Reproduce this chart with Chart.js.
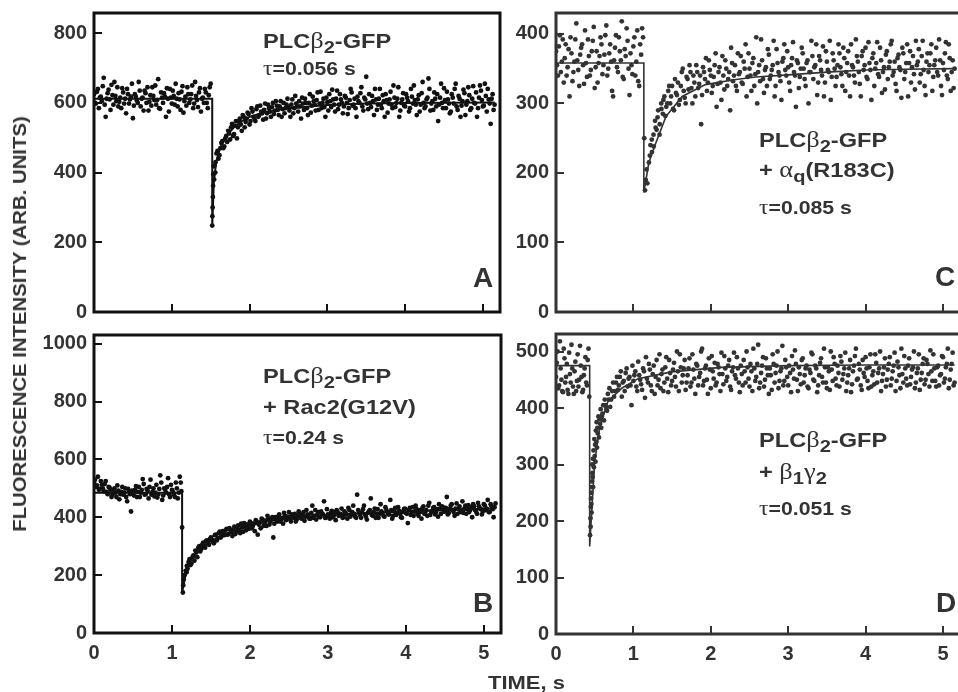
<!DOCTYPE html>
<html lang="en">
<head>
<meta charset="UTF-8">
<title>PLCb2-GFP fluorescence recovery</title>
<script src="https://cdn.jsdelivr.net/npm/chart.js"></script>
<style>
    html, body { margin: 0; padding: 0; background: #fff; overflow: hidden; }
    #wrap { position: relative; width: 958px; height: 692px; overflow: hidden; }
    /* canvases are oversized by 100px on every side so the plot boxes sit exactly where wanted */
    .panel { position: absolute; left: -100px; top: -100px; width: 1162px; height: 892px; }
    .t {
        position: absolute; white-space: nowrap; color: #333;
        font-family: "Liberation Sans", Arial, sans-serif; font-weight: bold;
        font-size: 20px; line-height: 20px;
        transform: scaleX(1.18); transform-origin: left center;
    }
    .t.small { font-size: 18px; line-height: 18px; }
    .g { font-family: "Liberation Serif", serif; font-weight: normal; font-size: 1.12em; }
    .sub { font-size: 0.85em; position: relative; top: 0.3em; }
    .letter { position: absolute; font-family: "Liberation Sans", Arial, sans-serif; font-weight: bold;
        font-size: 28px; line-height: 28px; color: #333; }
    #ytitle { position: absolute; left: 20px; top: 324px; white-space: nowrap; color: #333;
        font-family: "Liberation Sans", Arial, sans-serif; font-weight: bold; font-size: 18px; line-height: 18px;
        transform: translate(-50%, -50%) rotate(-90deg) scaleX(1.13); }
    #xtitle { position: absolute; left: 488px; top: 674px; white-space: nowrap; color: #333;
        font-family: "Liberation Sans", Arial, sans-serif; font-weight: bold; font-size: 18px; line-height: 18px;
        transform: scaleX(1.22); transform-origin: left center; }
</style>
</head>
<body>
<div id="wrap">
    <div class="panel"><canvas id="chartA"></canvas></div>
    <div class="panel"><canvas id="chartB"></canvas></div>
    <div class="panel"><canvas id="chartC"></canvas></div>
    <div class="panel"><canvas id="chartD"></canvas></div>

    <div class="t" style="left:263px;top:31px">PLC<span class="g">β</span><span class="sub">2</span>-GFP</div>
    <div class="t small" style="left:263px;top:59px"><span class="g">τ</span>=0.056 s</div>
    <div class="letter" style="left:473px;top:264px">A</div>

    <div class="t" style="left:263px;top:366px">PLC<span class="g">β</span><span class="sub">2</span>-GFP</div>
    <div class="t" style="left:263px;top:397px">+ Rac2(G12V)</div>
    <div class="t small" style="left:263px;top:428px"><span class="g">τ</span>=0.24 s</div>
    <div class="letter" style="left:473px;top:589px">B</div>

    <div class="t" style="left:759px;top:130px">PLC<span class="g">β</span><span class="sub">2</span>-GFP</div>
    <div class="t" style="left:759px;top:160px">+ <span class="g">α</span><span class="sub">q</span>(R183C)</div>
    <div class="t small" style="left:759px;top:198px"><span class="g">τ</span>=0.085 s</div>
    <div class="letter" style="left:935px;top:263px">C</div>

    <div class="t" style="left:759px;top:430px">PLC<span class="g">β</span><span class="sub">2</span>-GFP</div>
    <div class="t" style="left:759px;top:462px">+ <span class="g">β</span><span class="sub">1</span><span class="g">γ</span><span class="sub">2</span></div>
    <div class="t small" style="left:759px;top:499px"><span class="g">τ</span>=0.051 s</div>
    <div class="letter" style="left:936px;top:589px">D</div>

    <div id="ytitle">FLUORESCENCE INTENSITY (ARB. UNITS)</div>
    <div id="xtitle">TIME, s</div>
</div>

<script>
    // ---- data: [time s, intensity] ----
    const pointsA = [
        [0.000,625],[0.025,598],[0.050,640],[0.075,615],[0.100,605],[0.125,672],[0.150,560],[0.175,628],[0.200,610],[0.225,652],
        [0.250,595],[0.275,620],[0.300,645],[0.325,603],[0.350,585],[0.375,630],[0.400,612],[0.425,640],[0.450,598],[0.475,618],
        [0.500,556],[0.525,625],[0.550,607],[0.575,660],[0.600,590],[0.625,615],[0.650,635],[0.675,600],[0.700,578],[0.725,622],
        [0.750,645],[0.775,608],[0.800,595],[0.825,668],[0.850,583],[0.875,615],[0.900,628],[0.925,560],[0.950,612],[0.975,640],
        [1.000,598],[1.025,620],[1.050,655],[1.075,590],[1.100,610],[1.125,632],[1.150,572],[1.175,618],[1.200,645],[1.225,600],
        [1.250,625],[1.275,585],[1.300,660],[1.325,608],[1.350,630],[1.375,575],[1.400,615],[1.425,640],[1.450,600],[1.475,622],
        [1.500,655],[1.520,248],[1.522,275],[1.525,300],[1.528,330],[1.531,362],[1.534,395],[1.537,418],[1.545,380],[1.550,420],
        [1.560,400],[1.575,455],[1.600,440],[1.625,470],[1.650,490],[1.675,475],[1.700,505],[1.725,520],[1.750,495],[1.775,540],
        [1.800,510],[1.825,548],[1.850,530],[1.875,555],[1.900,520],[1.925,560],[1.950,545],[1.975,572],[2.000,538],[2.025,585],
        [2.050,560],[2.075,548],[2.100,590],[2.125,565],[2.150,575],[2.175,552],[2.200,598],[2.225,570],[2.250,585],[2.275,560],
        [2.300,600],[2.325,578],[2.350,592],[2.375,565],[2.400,605],[2.425,582],[2.450,570],[2.475,595],[2.500,588],[2.525,560],
        [2.550,610],[2.575,585],[2.600,598],[2.625,575],[2.650,590],[2.675,615],[2.700,580],[2.725,600],[2.750,565],[2.775,625],
        [2.800,592],[2.825,605],[2.850,578],[2.875,630],[2.900,598],[2.925,585],[2.950,612],[2.975,560],[3.000,602],[3.025,625],
        [3.050,588],[3.075,610],[3.100,575],[3.125,635],[3.150,595],[3.175,610],[3.200,570],[3.225,620],[3.250,600],[3.275,585],
        [3.300,640],[3.325,592],[3.350,612],[3.375,560],[3.400,605],[3.425,628],[3.450,590],[3.475,615],[3.500,675],[3.525,582],
        [3.550,600],[3.575,620],[3.600,565],[3.625,610],[3.650,595],[3.675,640],[3.700,585],[3.725,605],[3.750,625],[3.775,572],
        [3.800,610],[3.825,595],[3.850,650],[3.875,588],[3.900,612],[3.925,560],[3.950,600],[3.975,628],[4.000,590],[4.025,615],
        [4.050,575],[4.075,640],[4.100,598],[4.125,608],[4.150,565],[4.175,622],[4.200,595],[4.225,660],[4.250,585],[4.275,610],
        [4.300,670],[4.325,578],[4.350,605],[4.375,630],[4.400,590],[4.425,548],[4.450,615],[4.475,600],[4.500,642],[4.525,585],
        [4.550,610],[4.575,570],[4.600,625],[4.625,598],[4.650,655],[4.675,580],[4.700,612],[4.725,592],[4.750,638],[4.775,565],
        [4.800,605],[4.825,622],[4.850,585],[4.875,648],[4.900,598],[4.925,560],[4.950,615],[4.975,635],[5.000,590],[5.025,655],
        [5.050,575],[5.075,610],[5.100,540],[5.125,625],[5.150,595]
    ];
    const pointsA2 = [
        [0.0125,600],[0.0375,632],[0.0625,585],[0.0875,618],[0.1125,648],[0.1375,595],[0.1625,612],[0.1875,638],[0.2125,580],[0.2375,622],
        [0.2625,660],[0.2875,605],[0.3125,590],[0.3375,615],[0.3625,642],[0.3875,598],[0.4125,570],[0.4375,625],[0.4625,610],[0.4875,655],
        [0.5125,592],[0.5375,618],[0.5625,600],[0.5875,635],[0.6125,612],[0.6375,578],[0.6625,628],[0.6875,645],[0.7125,603],[0.7375,592],
        [0.7625,620],[0.7875,650],[0.8125,608],[0.8375,585],[0.8625,630],[0.8875,600],[0.9125,618],[0.9375,642],[0.9625,575],[0.9875,615],
        [1.0125,635],[1.0375,595],[1.0625,612],[1.0875,628],[1.1125,580],[1.1375,648],[1.1625,605],[1.1875,592],[1.2125,625],[1.2375,610],
        [1.2625,650],[1.2875,598],[1.3125,620],[1.3375,588],[1.3625,642],[1.3875,612],[1.4125,600],[1.4375,630],[1.4625,585],[1.4875,645],
        [1.5625,430],[1.5875,462],[1.6125,450],[1.6375,485],[1.6625,470],[1.6875,498],[1.7125,488],[1.7375,512],[1.7625,530],[1.7875,505],
        [1.8125,535],[1.8375,498],[1.8625,548],[1.8875,538],[1.9125,565],[1.9375,530],[1.9625,555],[1.9875,568],[2.0125,548],[2.0375,575],
        [2.0625,555],[2.0875,582],[2.1125,560],[2.1375,592],[2.1625,570],[2.1875,580],[2.2125,555],[2.2375,595],[2.2625,575],[2.2875,588],
        [2.3125,568],[2.3375,605],[2.3625,580],[2.3875,590],[2.4125,560],[2.4375,600],[2.4625,585],[2.4875,612],[2.5125,578],[2.5375,595],
        [2.5625,570],[2.5875,620],[2.6125,590],[2.6375,605],[2.6625,555],[2.6875,598],[2.7125,612],[2.7375,585],[2.7625,600],[2.7875,572],
        [2.8125,618],[2.8375,595],[2.8625,608],[2.8875,580],[2.9125,632],[2.9375,600],[2.9625,588],[2.9875,615],[3.0125,578],[3.0375,605],
        [3.0625,638],[3.0875,595],[3.1125,612],[3.1375,582],[3.1625,625],[3.1875,600],[3.2125,590],[3.2375,615],[3.2625,568],[3.2875,608],
        [3.3125,630],[3.3375,595],[3.3625,585],[3.3875,618],[3.4125,600],[3.4375,645],[3.4625,578],[3.4875,610],[3.5125,598],[3.5375,625],
        [3.5625,588],[3.5875,605],[3.6125,640],[3.6375,580],[3.6625,612],[3.6875,595],[3.7125,622],[3.7375,560],[3.7625,608],[3.7875,598],
        [3.8125,632],[3.8375,585],[3.8625,615],[3.8875,600],[3.9125,645],[3.9375,578],[3.9625,610],[3.9875,592],[4.0125,625],[4.0375,605],
        [4.0625,585],[4.0875,618],[4.1125,650],[4.1375,595],[4.1625,610],[4.1875,575],[4.2125,628],[4.2375,600],[4.2625,590],[4.2875,615],
        [4.3125,640],[4.3375,598],[4.3625,580],[4.3875,612],[4.4125,625],[4.4375,595],[4.4625,655],[4.4875,585],[4.5125,608],[4.5375,632],
        [4.5625,598],[4.5875,575],[4.6125,615],[4.6375,640],[4.6625,590],[4.6875,620],[4.7125,560],[4.7375,605],[4.7625,628],[4.7875,595],
        [4.8125,645],[4.8375,580],[4.8625,612],[4.8875,600],[4.9125,630],[4.9375,585],[4.9625,650],[4.9875,608],[5.0125,592],[5.0375,620],
        [5.0625,640],[5.0875,598],[5.1125,612],[5.1375,580]
    ];
    const fitA = [[0,612],[1.52,612],[1.52,245],[1.54,370],[1.57,430],[1.62,470],[1.70,505],[1.80,530],[1.90,548],[2.00,560],
        [2.20,574],[2.50,585],[3.00,594],[3.50,598],[4.00,600],[5.15,601]];

    const pointsB = [
        [0.000,520],[0.025,505],[0.050,540],[0.075,498],[0.100,512],[0.125,490],[0.150,525],[0.175,480],[0.200,502],[0.225,470],
        [0.250,495],[0.275,485],[0.300,510],[0.325,462],[0.350,488],[0.375,478],[0.400,500],[0.425,455],[0.450,490],[0.475,420],
        [0.500,482],[0.525,495],[0.550,470],[0.575,505],[0.600,485],[0.625,532],[0.650,478],[0.675,498],[0.700,465],[0.725,530],
        [0.750,488],[0.775,472],[0.800,512],[0.825,480],[0.850,545],[0.875,460],[0.900,500],[0.925,485],[0.950,535],[0.975,470],
        [1.000,495],[1.025,478],[1.050,520],[1.075,465],[1.100,540],[1.120,490],[1.130,365],[1.140,140],[1.145,165],[1.150,185],
        [1.160,200],[1.175,215],[1.190,232],[1.200,222],[1.225,255],[1.250,240],[1.275,268],[1.300,285],[1.325,262],[1.350,300],
        [1.375,290],[1.400,312],[1.425,295],[1.450,320],[1.475,305],[1.500,330],[1.525,315],[1.550,338],[1.575,320],[1.600,345],
        [1.625,330],[1.650,352],[1.675,338],[1.700,360],[1.725,342],[1.750,355],[1.775,335],[1.800,368],[1.825,350],[1.850,372],
        [1.875,345],[1.900,365],[1.925,380],[1.950,355],[1.975,372],[2.000,385],[2.025,362],[2.050,378],[2.075,390],[2.100,340],
        [2.125,382],[2.150,395],[2.175,370],[2.200,388],[2.225,405],[2.250,375],[2.275,395],[2.300,330],[2.325,400],[2.350,385],
        [2.375,410],[2.400,392],[2.425,378],[2.450,405],[2.475,395],[2.500,418],[2.525,385],[2.550,400],[2.575,412],[2.600,392],
        [2.625,420],[2.650,398],[2.675,408],[2.700,388],[2.725,425],[2.750,402],[2.775,395],[2.800,440],[2.825,405],[2.850,392],
        [2.875,418],[2.900,400],[2.925,412],[2.950,455],[2.975,398],[3.000,410],[3.025,395],[3.050,422],[3.075,405],[3.100,390],
        [3.125,418],[3.150,408],[3.175,430],[3.200,400],[3.225,415],[3.250,395],[3.275,425],[3.300,410],[3.325,440],[3.350,402],
        [3.375,478],[3.400,415],[3.425,398],[3.450,428],[3.475,410],[3.500,392],[3.525,420],[3.550,465],[3.575,405],[3.600,430],
        [3.625,412],[3.650,398],[3.675,445],[3.700,415],[3.725,402],[3.750,425],[3.775,410],[3.800,460],[3.825,395],[3.850,420],
        [3.875,408],[3.900,435],[3.925,412],[3.950,398],[3.975,428],[4.000,415],[4.025,380],[4.050,432],[4.075,418],[4.100,405],
        [4.125,440],[4.150,412],[4.175,425],[4.200,395],[4.225,438],[4.250,418],[4.275,405],[4.300,450],[4.325,420],[4.350,432],
        [4.375,410],[4.400,428],[4.425,445],[4.450,412],[4.475,435],[4.500,420],[4.525,470],[4.550,415],[4.575,440],[4.600,425],
        [4.625,405],[4.650,448],[4.675,428],[4.700,418],[4.725,455],[4.750,430],[4.775,412],[4.800,442],[4.825,425],[4.850,400],
        [4.875,438],[4.900,420],[4.925,450],[4.950,430],[4.975,410],[5.000,445],[5.025,425],[5.050,460],[5.075,418],[5.100,438],
        [5.125,400],[5.150,448]
    ];
    const pointsB2 = [
        [0.0125,530],[0.0375,510],[0.0625,495],[0.0875,525],[0.1125,500],[0.1375,515],[0.1625,488],[0.1875,505],[0.2125,495],[0.2375,478],
        [0.2625,500],[0.2875,470],[0.3125,492],[0.3375,480],[0.3625,505],[0.3875,485],[0.4125,470],[0.4375,498],[0.4625,480],[0.4875,492],
        [0.5125,475],[0.5375,508],[0.5625,488],[0.5875,470],[0.6125,495],[0.6375,515],[0.6625,480],[0.6875,492],[0.7125,505],[0.7375,478],
        [0.7625,500],[0.7875,485],[0.8125,468],[0.8375,498],[0.8625,520],[0.8875,475],[0.9125,495],[0.9375,505],[0.9625,480],[0.9875,512],
        [1.0125,488],[1.0375,470],[1.0625,500],[1.0875,485],[1.1125,520],
        [1.1875,210],[1.2125,245],[1.2375,235],[1.2625,262],[1.2875,250],[1.3125,278],[1.3375,295],[1.3625,282],[1.3875,305],[1.4125,298],
        [1.4375,318],[1.4625,308],[1.4875,325],[1.5125,322],[1.5375,310],[1.5625,340],[1.5875,328],[1.6125,350],[1.6375,335],[1.6625,345],
        [1.6875,355],[1.7125,340],[1.7375,362],[1.7625,348],[1.7875,358],[1.8125,342],[1.8375,365],[1.8625,355],[1.8875,378],[1.9125,350],
        [1.9375,368],[1.9625,375],[1.9875,360],[2.0125,380],[2.0375,370],[2.0625,352],[2.0875,385],[2.1125,375],[2.1375,362],[2.1625,392],
        [2.1875,380],[2.2125,370],[2.2375,395],[2.2625,385],[2.2875,400],[2.3125,378],[2.3375,392],[2.3625,402],[2.3875,385],[2.4125,398],
        [2.4375,415],[2.4625,390],[2.4875,402],[2.5125,395],[2.5375,410],[2.5625,398],[2.5875,385],[2.6125,405],[2.6375,412],[2.6625,395],
        [2.6875,418],[2.7125,402],[2.7375,410],[2.7625,395],[2.7875,415],[2.8125,398],[2.8375,425],[2.8625,408],[2.8875,402],[2.9125,420],
        [2.9375,410],[2.9625,398],[2.9875,428],[3.0125,405],[3.0375,415],[3.0625,400],[3.0875,418],[3.1125,425],[3.1375,405],[3.1625,412],
        [3.1875,398],[3.2125,420],[3.2375,410],[3.2625,432],[3.2875,402],[3.3125,418],[3.3375,412],[3.3625,398],[3.3875,425],[3.4125,408],
        [3.4375,418],[3.4625,440],[3.4875,402],[3.5125,415],[3.5375,425],[3.5625,408],[3.5875,418],[3.6125,398],[3.6375,428],[3.6625,412],
        [3.6875,420],[3.7125,405],[3.7375,435],[3.7625,418],[3.7875,410],[3.8125,425],[3.8375,405],[3.8625,432],[3.8875,415],[3.9125,422],
        [3.9375,400],[3.9625,418],[3.9875,430],[4.0125,412],[4.0375,425],[4.0625,408],[4.0875,435],[4.1125,420],[4.1375,428],[4.1625,405],
        [4.1875,418],[4.2125,432],[4.2375,412],[4.2625,425],[4.2875,440],[4.3125,408],[4.3375,420],[4.3625,435],[4.3875,418],[4.4125,402],
        [4.4375,428],[4.4625,438],[4.4875,420],[4.5125,432],[4.5375,410],[4.5625,428],[4.5875,445],[4.6125,418],[4.6375,430],[4.6625,412],
        [4.6875,438],[4.7125,425],[4.7375,415],[4.7625,440],[4.7875,428],[4.8125,418],[4.8375,435],[4.8625,445],[4.8875,425],[4.9125,412],
        [4.9375,438],[4.9625,428],[4.9875,420],[5.0125,440],[5.0375,430],[5.0625,418],[5.0875,445],[5.1125,428],[5.1375,435]
    ];
    const fitB = [[0,485],[1.13,485],[1.13,140],[1.18,210],[1.25,255],[1.35,292],[1.50,318],[1.75,348],[2.00,372],[2.25,388],
        [2.50,398],[3.00,408],[3.50,415],[4.00,420],[4.50,425],[5.15,430]];

    const pointsC = [
        [0.000,375],[0.025,340],[0.050,398],[0.075,360],[0.100,330],[0.125,385],[0.150,352],[0.175,310],[0.200,372],[0.225,345],
        [0.250,392],[0.275,362],[0.300,325],[0.325,380],[0.350,355],[0.375,405],[0.400,338],[0.425,368],[0.450,348],[0.475,390],
        [0.500,322],[0.525,375],[0.550,358],[0.575,395],[0.600,342],[0.625,370],[0.650,412],[0.675,350],[0.700,385],[0.725,318],
        [0.750,362],[0.775,398],[0.800,345],[0.825,375],[0.850,418],[0.875,335],[0.900,368],[0.925,390],[0.950,312],[0.975,355],
        [1.000,382],[1.025,340],[1.050,405],[1.075,325],[1.100,370],[1.125,395],[1.140,250],[1.150,175],[1.160,190],[1.170,205],
        [1.180,185],[1.200,215],[1.220,240],[1.240,230],[1.260,255],[1.280,275],[1.300,262],[1.320,290],[1.340,270],[1.360,300],
        [1.380,285],[1.400,310],[1.425,295],[1.450,318],[1.475,300],[1.500,325],[1.525,290],[1.550,315],[1.575,330],[1.600,305],
        [1.625,345],[1.650,318],[1.675,300],[1.700,335],[1.725,355],[1.750,322],[1.775,340],[1.800,310],[1.825,345],[1.850,328],
        [1.875,270],[1.900,352],[1.925,335],[1.950,318],[1.975,362],[2.000,340],[2.025,325],[2.050,355],[2.075,295],[2.100,345],
        [2.125,330],[2.150,368],[2.175,320],[2.200,350],[2.225,335],[2.250,290],[2.275,358],[2.300,340],[2.325,325],[2.350,372],
        [2.375,345],[2.400,330],[2.425,360],[2.450,385],[2.475,338],[2.500,350],[2.525,318],[2.550,365],[2.575,342],[2.600,300],
        [2.625,355],[2.650,392],[2.675,335],[2.700,348],[2.725,325],[2.750,370],[2.775,340],[2.800,355],[2.825,310],[2.850,378],
        [2.875,345],[2.900,332],[2.925,360],[2.950,385],[2.975,340],[3.000,352],[3.025,318],[3.050,365],[3.075,345],[3.100,295],
        [3.125,358],[3.150,338],[3.175,380],[3.200,350],[3.225,325],[3.250,362],[3.275,345],[3.300,390],[3.325,335],[3.350,355],
        [3.375,312],[3.400,368],[3.425,348],[3.450,382],[3.475,330],[3.500,360],[3.525,345],[3.550,305],[3.575,372],[3.600,350],
        [3.625,338],[3.650,385],[3.675,352],[3.700,325],[3.725,365],[3.750,345],[3.775,375],[3.800,310],[3.825,355],[3.850,340],
        [3.875,392],[3.900,360],[3.925,328],[3.950,368],[3.975,348],[4.000,380],[4.025,335],[4.050,358],[4.075,305],[4.100,372],
        [4.125,350],[4.150,388],[4.175,338],[4.200,362],[4.225,345],[4.250,320],[4.275,375],[4.300,352],[4.325,385],[4.350,340],
        [4.375,360],[4.400,318],[4.425,370],[4.450,348],[4.475,380],[4.500,335],[4.525,358],[4.550,310],[4.575,375],[4.600,352],
        [4.625,342],[4.650,390],[4.675,360],[4.700,330],[4.725,368],[4.750,348],[4.775,312],[4.800,372],[4.825,355],[4.850,385],
        [4.875,338],[4.900,362],[4.925,345],[4.950,392],[4.975,325],[5.000,358],[5.025,372],[5.050,340],[5.075,385],[5.100,318],
        [5.125,362],[5.150,350]
    ];
    const pointsC2 = [
        [0.0125,355],[0.0375,382],[0.0625,345],[0.0875,392],[0.1125,365],[0.1375,340],[0.1625,378],[0.1875,395],[0.2125,332],[0.2375,360],
        [0.2625,415],[0.2875,348],[0.3125,370],[0.3375,385],[0.3625,328],[0.3875,358],[0.4125,392],[0.4375,340],[0.4625,375],[0.4875,410],
        [0.5125,352],[0.5375,330],[0.5625,368],[0.5875,385],[0.6125,355],[0.6375,398],[0.6625,340],[0.6875,372],[0.7125,360],[0.7375,310],
        [0.7625,380],[0.7875,352],[0.8125,395],[0.8375,362],[0.8625,338],[0.8875,378],[0.9125,408],[0.9375,350],[0.9625,372],[0.9875,342],
        [1.0125,395],[1.0375,360],[1.0625,332],[1.0875,385],[1.1125,408],
        [1.2125,225],[1.2375,248],[1.2625,238],[1.2875,265],[1.3125,280],[1.3375,255],[1.3625,292],[1.3875,305],[1.4125,282],[1.4375,300],
        [1.4625,325],[1.4875,310],[1.5125,292],[1.5375,335],[1.5625,312],[1.5875,298],[1.6125,325],[1.6375,350],[1.6625,308],[1.6875,338],
        [1.7125,320],[1.7375,345],[1.7625,300],[1.7875,330],[1.8125,355],[1.8375,322],[1.8625,340],[1.8875,312],[1.9125,345],[1.9375,365],
        [1.9625,330],[1.9875,348],[2.0125,315],[2.0375,338],[2.0625,372],[2.0875,328],[2.1125,352],[2.1375,305],[2.1625,340],[2.1875,362],
        [2.2125,325],[2.2375,345],[2.2625,380],[2.2875,332],[2.3125,355],[2.3375,318],[2.3625,342],[2.3875,368],[2.4125,328],[2.4375,350],
        [2.4625,310],[2.4875,372],[2.5125,340],[2.5375,358],[2.5625,325],[2.5875,395],[2.6125,345],[2.6375,332],[2.6625,362],[2.6875,315],
        [2.7125,352],[2.7375,378],[2.7625,335],[2.7875,348],[2.8125,390],[2.8375,325],[2.8625,358],[2.8875,340],[2.9125,305],[2.9375,365],
        [2.9625,348],[2.9875,375],[3.0125,330],[3.0375,355],[3.0625,388],[3.0875,340],[3.1125,362],[3.1375,322],[3.1625,350],[3.1875,372],
        [3.2125,335],[3.2375,358],[3.2625,300],[3.2875,345],[3.3125,368],[3.3375,352],[3.3625,385],[3.3875,330],[3.4125,362],[3.4375,340],
        [3.4625,310],[3.4875,375],[3.5125,348],[3.5375,390],[3.5625,338],[3.5875,362],[3.6125,325],[3.6375,355],[3.6625,372],[3.6875,342],
        [3.7125,380],[3.7375,318],[3.7625,358],[3.7875,340],[3.8125,385],[3.8375,352],[3.8625,330],[3.8875,368],[3.9125,345],[3.9375,310],
        [3.9625,375],[3.9875,355],[4.0125,338],[4.0375,388],[4.0625,348],[4.0875,365],[4.1125,325],[4.1375,358],[4.1625,342],[4.1875,380],
        [4.2125,315],[4.2375,352],[4.2625,370],[4.2875,335],[4.3125,360],[4.3375,390],[4.3625,345],[4.3875,328],[4.4125,365],[4.4375,352],
        [4.4625,308],[4.4875,372],[4.5125,345],[4.5375,385],[4.5625,358],[4.5875,330],[4.6125,368],[4.6375,320],[4.6625,355],[4.6875,378],
        [4.7125,342],[4.7375,390],[4.7625,325],[4.7875,360],[4.8125,345],[4.8375,372],[4.8625,318],[4.8875,355],[4.9125,380],[4.9375,340],
        [4.9625,362],[4.9875,312],[5.0125,348],[5.0375,388],[5.0625,335],[5.0875,365],[5.1125,345],[5.1375,322]
    ];
    const fitC = [[0,358],[1.135,358],[1.135,172],[1.20,215],[1.29,243],[1.42,281],[1.63,310],[1.93,327],[2.30,334],[2.58,338],
        [3.00,341],[3.50,345],[4.00,348],[4.50,349],[5.15,350]];

    const pointsD = [
        [0.000,455],[0.020,500],[0.040,440],[0.060,470],[0.080,430],[0.100,505],[0.120,445],[0.140,478],[0.160,425],[0.180,460],
        [0.200,512],[0.220,438],[0.240,465],[0.260,430],[0.280,495],[0.300,450],[0.320,475],[0.340,428],[0.360,458],[0.380,490],
        [0.400,440],[0.420,505],[0.430,420],[0.440,175],[0.445,205],[0.450,225],[0.455,250],[0.460,215],[0.465,270],[0.470,285],
        [0.480,260],[0.490,295],[0.500,315],[0.510,305],[0.520,340],[0.530,330],[0.540,355],[0.555,348],[0.570,372],[0.585,365],
        [0.600,390],[0.620,378],[0.640,405],[0.660,395],[0.680,415],[0.700,402],[0.725,430],[0.750,420],[0.775,445],[0.800,432],
        [0.825,455],[0.850,420],[0.875,448],[0.900,462],[0.925,438],[0.950,455],[0.975,405],[1.000,448],[1.025,465],[1.050,430],
        [1.075,458],[1.100,442],[1.125,470],[1.150,418],[1.175,452],[1.200,478],[1.225,440],[1.250,460],[1.275,425],[1.300,485],
        [1.325,450],[1.350,435],[1.375,468],[1.400,445],[1.425,490],[1.450,428],[1.475,462],[1.500,448],[1.525,480],[1.550,438],
        [1.575,465],[1.600,495],[1.625,445],[1.650,470],[1.675,432],[1.700,458],[1.725,488],[1.750,445],[1.775,468],[1.800,425],
        [1.825,475],[1.850,455],[1.875,500],[1.900,440],[1.925,470],[1.950,450],[1.975,488],[2.000,435],[2.025,465],[2.050,480],
        [2.075,445],[2.100,472],[2.125,430],[2.150,460],[2.175,492],[2.200,448],[2.225,475],[2.250,438],[2.275,465],[2.300,498],
        [2.325,452],[2.350,470],[2.375,428],[2.400,460],[2.425,485],[2.450,445],[2.475,472],[2.500,438],[2.525,465],[2.550,505],
        [2.575,448],[2.600,478],[2.625,435],[2.650,462],[2.675,490],[2.700,450],[2.725,470],[2.750,425],[2.775,458],[2.800,495],
        [2.825,445],[2.850,475],[2.875,435],[2.900,465],[2.925,510],[2.950,448],[2.975,472],[3.000,440],[3.025,462],[3.050,492],
        [3.075,452],[3.100,478],[3.125,430],[3.150,460],[3.175,485],[3.200,445],[3.225,470],[3.250,438],[3.275,468],[3.300,498],
        [3.325,450],[3.350,475],[3.375,428],[3.400,458],[3.425,488],[3.450,445],[3.475,472],[3.500,435],[3.525,465],[3.550,500],
        [3.575,448],[3.600,478],[3.625,440],[3.650,462],[3.675,492],[3.700,450],[3.725,470],[3.750,430],[3.775,458],[3.800,485],
        [3.825,442],[3.850,475],[3.875,505],[3.900,452],[3.925,468],[3.950,432],[3.975,462],[4.000,490],[4.025,448],[4.050,472],
        [4.075,438],[4.100,465],[4.125,495],[4.150,445],[4.175,470],[4.200,430],[4.225,460],[4.250,488],[4.275,450],[4.300,478],
        [4.325,440],[4.350,465],[4.375,498],[4.400,448],[4.425,472],[4.450,435],[4.475,460],[4.500,492],[4.525,452],[4.550,475],
        [4.575,442],[4.600,468],[4.625,500],[4.650,445],[4.675,470],[4.700,432],[4.725,462],[4.750,488],[4.775,450],[4.800,478],
        [4.825,438],[4.850,465],[4.875,495],[4.900,448],[4.925,472],[4.950,440],[4.975,460],[5.000,490],[5.025,452],[5.050,478],
        [5.075,435],[5.100,468],[5.125,498],[5.150,445]
    ];
    const pointsD2 = [
        [0.010,480],[0.030,435],[0.050,518],[0.070,450],[0.090,428],[0.110,488],[0.130,455],[0.150,432],[0.170,498],[0.190,445],
        [0.210,470],[0.230,425],[0.250,482],[0.270,448],[0.290,438],[0.310,510],[0.330,455],[0.350,432],[0.370,470],[0.390,445],
        [0.410,485],[0.4475,190],[0.4525,240],[0.4575,230],[0.4625,260],[0.4675,300],[0.4725,278],[0.4775,310],[0.4850,325],[0.4950,345],
        [0.5050,335],[0.5150,360],[0.5250,375],[0.5350,365],[0.5475,385],[0.5625,380],[0.5775,398],[0.5925,385],[0.6100,405],[0.6300,415],
        [0.6500,400],[0.6700,425],[0.6900,435],[0.7125,415],[0.7375,445],[0.7625,430],[0.7875,455],[0.8125,440],[0.8375,465],[0.8625,445],
        [0.8875,430],[0.9125,470],[0.9375,452],[0.9625,440],[0.9875,475],[1.0125,458],[1.0375,438],[1.0625,482],[1.0875,450],[1.1125,432],
        [1.1375,465],[1.1625,490],[1.1875,445],[1.2125,468],[1.2375,430],[1.2625,475],[1.2875,455],[1.3125,440],[1.3375,495],[1.3625,460],
        [1.3875,430],[1.4125,472],[1.4375,452],[1.4625,485],[1.4875,440],[1.5125,468],[1.5375,455],[1.5625,500],[1.5875,430],[1.6125,472],
        [1.6375,458],[1.6625,485],[1.6875,445],[1.7125,470],[1.7375,438],[1.7625,495],[1.7875,452],[1.8125,478],[1.8375,440],[1.8625,462],
        [1.8875,505],[1.9125,448],[1.9375,475],[1.9625,425],[1.9875,468],[2.0125,492],[2.0375,452],[2.0625,440],[2.0875,478],[2.1125,460],
        [2.1375,498],[2.1625,442],[2.1875,470],[2.2125,455],[2.2375,485],[2.2625,432],[2.2875,472],[2.3125,458],[2.3375,490],[2.3625,445],
        [2.3875,475],[2.4125,440],[2.4375,465],[2.4625,500],[2.4875,452],[2.5125,478],[2.5375,430],[2.5625,470],[2.5875,455],[2.6125,512],
        [2.6375,445],[2.6625,475],[2.6875,438],[2.7125,488],[2.7375,458],[2.7625,470],[2.7875,432],[2.8125,478],[2.8375,462],[2.8625,500],
        [2.8875,448],[2.9125,470],[2.9375,440],[2.9625,485],[2.9875,455],[3.0125,475],[3.0375,428],[3.0625,468],[3.0875,502],[3.1125,450],
        [3.1375,472],[3.1625,442],[3.1875,488],[3.2125,458],[3.2375,475],[3.2625,435],[3.2875,462],[3.3125,495],[3.3375,448],[3.3625,470],
        [3.3875,440],[3.4125,480],[3.4375,455],[3.4625,505],[3.4875,445],[3.5125,472],[3.5375,432],[3.5625,468],[3.5875,490],[3.6125,452],
        [3.6375,475],[3.6625,438],[3.6875,482],[3.7125,460],[3.7375,498],[3.7625,445],[3.7875,470],[3.8125,428],[3.8375,465],[3.8625,492],
        [3.8875,450],[3.9125,478],[3.9375,440],[3.9625,485],[3.9875,455],[4.0125,470],[4.0375,435],[4.0625,495],[4.0875,458],[4.1125,442],
        [4.1375,480],[4.1625,462],[4.1875,500],[4.2125,448],[4.2375,472],[4.2625,438],[4.2875,468],[4.3125,490],[4.3375,452],[4.3625,475],
        [4.3875,430],[4.4125,482],[4.4375,458],[4.4625,505],[4.4875,445],[4.5125,470],[4.5375,440],[4.5625,488],[4.5875,455],[4.6125,472],
        [4.6375,435],[4.6625,462],[4.6875,495],[4.7125,450],[4.7375,478],[4.7625,442],[4.7875,485],[4.8125,460],[4.8375,502],[4.8625,448],
        [4.8875,470],[4.9125,438],[4.9375,475],[4.9625,458],[4.9875,492],[5.0125,445],[5.0375,472],[5.0625,505],[5.0875,450],[5.1125,478],
        [5.1375,440]
    ];
    const fitD = [[0,475],[0.435,475],[0.435,155],[0.50,305],[0.57,370],[0.67,411],[0.85,435],[1.06,452],[1.49,464],[2.13,472],
        [3.00,475],[4.00,476],[5.15,476]];

    // axis ranges and tick labels
    const timeMax = 5.22;
    const timeTicks = [0, 1, 2, 3, 4, 5];
    const yMaxA = 858, yMaxB = 1030, yMaxC = 430, yMaxD = 531;
    const yTicksA = [0, 200, 400, 600, 800];
    const yTicksB = [0, 200, 400, 600, 800, 1000];
    const yTicksC = [0, 100, 200, 300, 400];
    const yTicksD = [0, 100, 200, 300, 400, 500];

    // closed frame round the plot area
    const framePlugin = {
        id: 'frame',
        afterDraw(chart, args, opts) {
            const a = chart.chartArea, ctx = chart.ctx;
            ctx.save();
            ctx.strokeStyle = opts.color;
            ctx.lineWidth = 3;
            ctx.strokeRect(a.left, a.top, a.right - a.left, a.bottom - a.top);
            ctx.restore();
        }
    };

    const toXY = arr => arr.map(p => ({ x: p[0], y: p[1] }));
    const fixTicks = vals => s => { s.ticks = vals.map(v => ({ value: v })); };
    const tickFont = { family: 'Liberation Sans', weight: 'bold', size: 20 };
    const OFF = 100;   // canvas overhang on every side

    function makePanel(id, box, pts, fit, yMax, yTicks, showX, ink, fitWidth) {
        const W = 958 + 2 * OFF + 4, H = 692 + 2 * OFF;
        return new Chart(document.getElementById(id), {
            type: 'scatter',
            data: {
                datasets: [
                    { data: toXY(fit), showLine: true, borderColor: ink, borderWidth: fitWidth, pointRadius: 0, order: 0 },
                    { data: toXY(pts), pointRadius: 2.4, pointBackgroundColor: ink, pointBorderWidth: 0, order: 1 }
                ]
            },
            options: {
                responsive: true, maintainAspectRatio: false, animation: false,
                events: [],
                layout: { padding: { left: 0, top: box.t + OFF, right: W - (box.r + OFF), bottom: 0 } },
                plugins: { legend: { display: false }, tooltip: { enabled: false }, frame: { color: ink } },
                scales: {
                    x: {
                        type: 'linear', min: 0, max: timeMax,
                        afterBuildTicks: fixTicks(timeTicks),
                        afterFit: s => { s.height = H - (box.b + OFF); },
                        border: { display: false },
                        grid: { drawOnChartArea: false, tickLength: -8, lineWidth: 2, color: ink },
                        ticks: { display: showX, padding: 16, color: '#333', font: tickFont, callback: v => String(v) }
                    },
                    y: {
                        min: 0, max: yMax,
                        afterBuildTicks: fixTicks(yTicks),
                        afterFit: s => { s.width = box.l + OFF; },
                        border: { display: false },
                        grid: { drawOnChartArea: false, tickLength: -8, lineWidth: 2, color: ink },
                        ticks: { padding: 15, color: '#333', font: tickFont, callback: v => String(v) }
                    }
                }
            },
            plugins: [framePlugin]
        });
    }

    makePanel('chartA', { l: 94, t: 13, r: 500, b: 312 }, pointsA.concat(pointsA2), fitA, yMaxA, yTicksA, false, '#111', 2);
    makePanel('chartB', { l: 94, t: 335, r: 501, b: 633 }, pointsB.concat(pointsB2), fitB, yMaxB, yTicksB, true, '#111', 2);
    makePanel('chartC', { l: 556, t: 13, r: 960, b: 312 }, pointsC.concat(pointsC2), fitC, yMaxC, yTicksC, false, '#333', 1.6);
    makePanel('chartD', { l: 556, t: 334, r: 960, b: 634 }, pointsD.concat(pointsD2), fitD, yMaxD, yTicksD, true, '#333', 1.6);
</script>
</body>
</html>
